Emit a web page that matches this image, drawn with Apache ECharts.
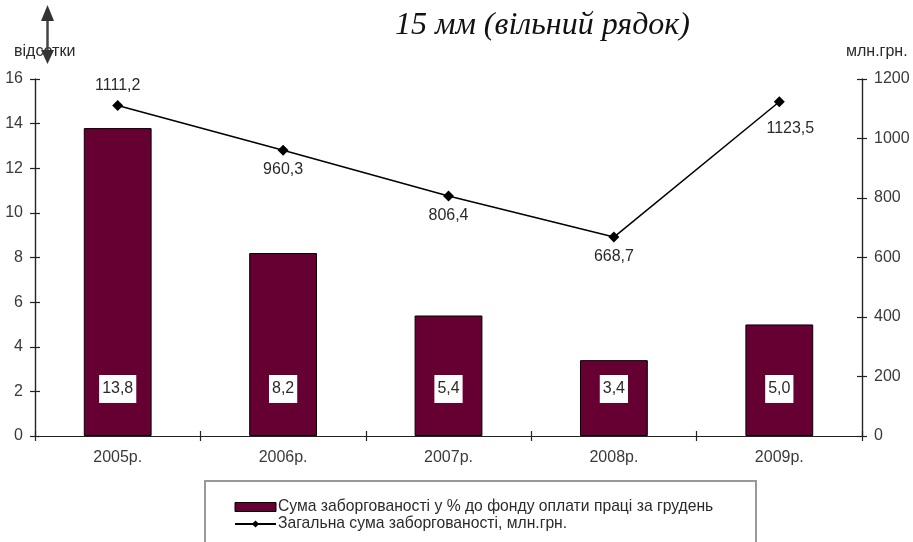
<!DOCTYPE html>
<html><head><meta charset="utf-8">
<script src="https://cdn.jsdelivr.net/npm/echarts@6/dist/echarts.min.js"></script>
<style>html,body{margin:0;padding:0;background:#fff}#c{width:913px;height:542px}</style>
</head><body><div id="c"></div>
<script>
const categories = ['2005р.', '2006р.', '2007р.', '2008р.', '2009р.'];
const percentValues = [13.8, 8.2, 5.4, 3.4, 5.0];
const totalValues = [1111.2, 960.3, 806.4, 668.7, 1123.5];
const lineLabelPos = ['top', 'bottom', 'bottom', 'bottom', 'bottom'];
const barName = 'Сума заборгованості у % до фонду оплати праці за грудень';
const lineName = 'Загальна сума заборгованості, млн.грн.';

const fmt = v => v.toFixed(1).replace('.', ',');
const txt = '#3a3a3a';
const font = 'Liberation Sans, Arial, sans-serif';
const axisColor = '#222';
const lineLabelOffset = [[0, 0], [0, 0], [0, 0], [0, 0], [11, 7]];

const chart = echarts.init(document.getElementById('c'));
const yAxisDef = (pos, min, max, interval, inside, showLabel) => ({
  type: 'value', position: pos, min, max, interval,
  axisLine: {show: true, lineStyle: {color: axisColor, width: 1.2}},
  axisTick: {show: true, inside, length: 5, lineStyle: {color: axisColor, width: 1.2}},
  axisLabel: {show: showLabel, color: txt, fontFamily: font, fontSize: 16, margin: 12,
              formatter: v => String(v)},
  splitLine: {show: false}
});
const xAxisDef = (inside, showLabel) => ({
  type: 'category', data: categories, position: 'bottom',
  axisLine: {show: true, onZero: false, lineStyle: {color: axisColor, width: 1.2}},
  axisTick: {show: true, inside, length: 5, alignWithLabel: false, lineStyle: {color: axisColor, width: 1.2}},
  axisLabel: {show: showLabel, color: txt, fontFamily: font, fontSize: 16, margin: 14}
});
chart.setOption({
  animation: false,
  textStyle: {fontFamily: font},
  grid: {left: 35, right: 51, top: 79, bottom: 106},
  xAxis: [xAxisDef(false, true), xAxisDef(true, false)],
  yAxis: [
    yAxisDef('left', 0, 16, 2, false, true),
    yAxisDef('right', 0, 1200, 200, false, true),
    yAxisDef('left', 0, 16, 2, true, false),
    yAxisDef('right', 0, 1200, 200, true, false)
  ],
  legend: {
    orient: 'vertical', left: 229, top: 494, itemGap: 1,
    itemWidth: 41, itemHeight: 9,
    textStyle: {color: '#2a2a2a', fontSize: 15.7, fontFamily: font, lineHeight: 16, padding: [0, 0, 0, -3]},
    data: [
      {name: barName, icon: 'rect', itemStyle: {color: '#660033', borderColor: '#000', borderWidth: 1}},
      {name: lineName}
    ]
  },
  graphic: [
    {type: 'rect', shape: {x: 205, y: 481, width: 551, height: 75}, style: {fill: 'none', stroke: '#999', lineWidth: 2}, z: 1},
    {type: 'text', left: 395, top: 10, style: {text: '15 мм (вільний рядок)', font: 'italic 32px "Liberation Serif", "Times New Roman", serif', fill: '#111'}},
    {type: 'text', left: 14, top: 44, style: {text: 'відсотки', font: '16px Liberation Sans, Arial, sans-serif', fill: '#2a2a2a'}},
    {type: 'text', left: 846, top: 44, style: {text: 'млн.грн.', font: '16px Liberation Sans, Arial, sans-serif', fill: '#2a2a2a'}},
    {type: 'line', shape: {x1: 47.5, y1: 18, x2: 47.5, y2: 54}, style: {stroke: '#444', lineWidth: 2.5}, z: 10},
    {type: 'polygon', shape: {points: [[47.5, 5], [41, 21], [54, 21]]}, style: {fill: '#333'}, z: 10},
    {type: 'polygon', shape: {points: [[47.5, 64], [41, 50], [54, 50]]}, style: {fill: '#333'}, z: 10}
  ],
  series: [
    {
      name: barName, type: 'bar', data: percentValues, yAxisIndex: 0,
      barWidth: '41%',
      itemStyle: {color: '#660033', borderColor: '#000', borderWidth: 1},
      label: {
        show: true, position: 'insideBottom', distance: 33,
        formatter: p => fmt(p.value),
        backgroundColor: '#fff', padding: [6, 3, 6, 3],
        color: '#2a2a2a', fontSize: 16, fontFamily: font
      }
    },
    {
      name: lineName, type: 'line', yAxisIndex: 1,
      data: totalValues.map((v, i) => ({value: v, label: {position: lineLabelPos[i], offset: lineLabelOffset[i]}})),
      symbol: 'diamond', symbolSize: 11,
      lineStyle: {color: '#000', width: 1.5},
      itemStyle: {color: '#000'},
      label: {show: true, formatter: p => fmt(p.value), color: '#2a2a2a', fontSize: 16, fontFamily: font, distance: 6}
    }
  ]
});
</script></body></html>
